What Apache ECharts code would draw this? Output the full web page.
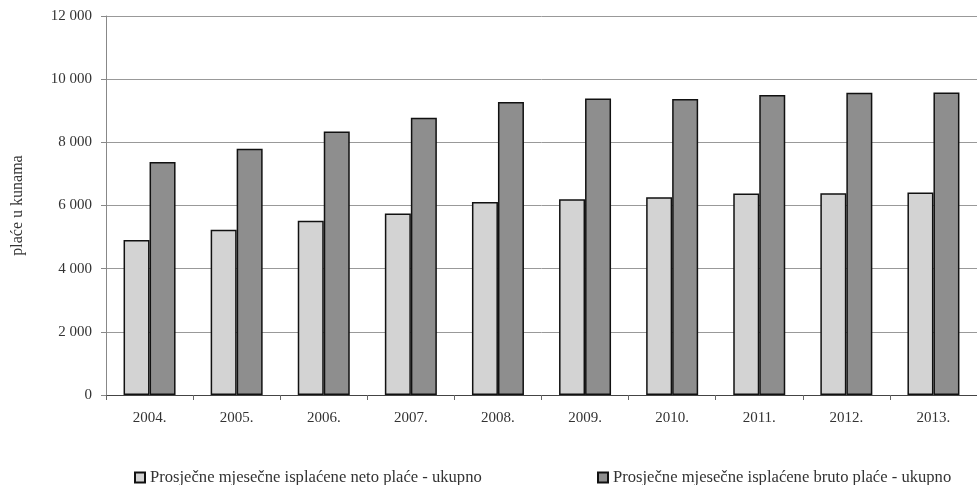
<!DOCTYPE html>
<html>
<head>
<meta charset="utf-8">
<script src="https://cdn.jsdelivr.net/npm/echarts@6/dist/echarts.min.js"></script>
<style>
  html, body { margin: 0; padding: 0; background: #fff; }
  #chart { width: 977px; height: 485px; }
</style>
</head>
<body>
<div id="chart"></div>
<script>
const years = ['2004.', '2005.', '2006.', '2007.', '2008.', '2009.', '2010.', '2011.', '2012.', '2013.'];
const netoName = 'Prosječne mjesečne isplaćene neto plaće - ukupno';
const brutoName = 'Prosječne mjesečne isplaćene bruto plaće - ukupno';
const neto = [4910, 5230, 5520, 5750, 6110, 6200, 6260, 6380, 6390, 6410];
const bruto = [7380, 7800, 8340, 8780, 9280, 9390, 9370, 9500, 9570, 9580];

const chart = echarts.init(document.getElementById('chart'));
const serif = 'Liberation Serif';

// legenda je u dva odvojena dijela, lijevo i desno
const legendText = { fontFamily: serif, fontSize: 16.6, color: '#333' };

chart.setOption({
  animation: false,
  textStyle: { fontFamily: serif },
  grid: { left: 106, right: -8, top: 16, bottom: 90 },
  legend: [
    {
      data: [netoName], left: 129, top: 464,
      itemWidth: 10, itemHeight: 10, itemGap: 4, icon: 'rect',
      textStyle: legendText
    },
    {
      data: [brutoName], left: 592, top: 464,
      itemWidth: 10, itemHeight: 10, itemGap: 4, icon: 'rect',
      textStyle: legendText
    }
  ],
  xAxis: {
    type: 'category',
    data: years,
    axisLine: { lineStyle: { color: '#444', width: 1 } },
    axisTick: { show: true, length: 5, lineStyle: { color: '#666' } },
    axisLabel: { fontFamily: serif, fontSize: 15, color: '#333', margin: 16 }
  },
  yAxis: {
    type: 'value',
    min: 0, max: 12000, interval: 2000,
    name: 'plaće u kunama',
    nameLocation: 'middle',
    nameGap: 80,
    nameRotate: 90,
    nameTextStyle: { fontFamily: serif, fontSize: 16, color: '#333' },
    axisLine: { show: true, lineStyle: { color: '#888' } },
    axisTick: { show: true, length: 5, lineStyle: { color: '#888' } },
    axisLabel: {
      fontFamily: serif, fontSize: 15, color: '#333', margin: 14,
      formatter: v => v >= 1000 ? Math.floor(v / 1000) + ' ' + String(v % 1000).padStart(3, '0') : String(v)
    },
    splitLine: { lineStyle: { color: '#999', width: 1 } }
  },
  series: [
    {
      name: netoName, type: 'bar', data: neto,
      barWidth: 26, barGap: '0%',
      itemStyle: { color: '#d3d3d3', borderColor: '#111', borderWidth: 1.5 }
    },
    {
      name: brutoName, type: 'bar', data: bruto,
      barWidth: 26, barGap: '0%',
      itemStyle: { color: '#8e8e8e', borderColor: '#111', borderWidth: 1.5 }
    }
  ]
});
</script>
</body>
</html>
